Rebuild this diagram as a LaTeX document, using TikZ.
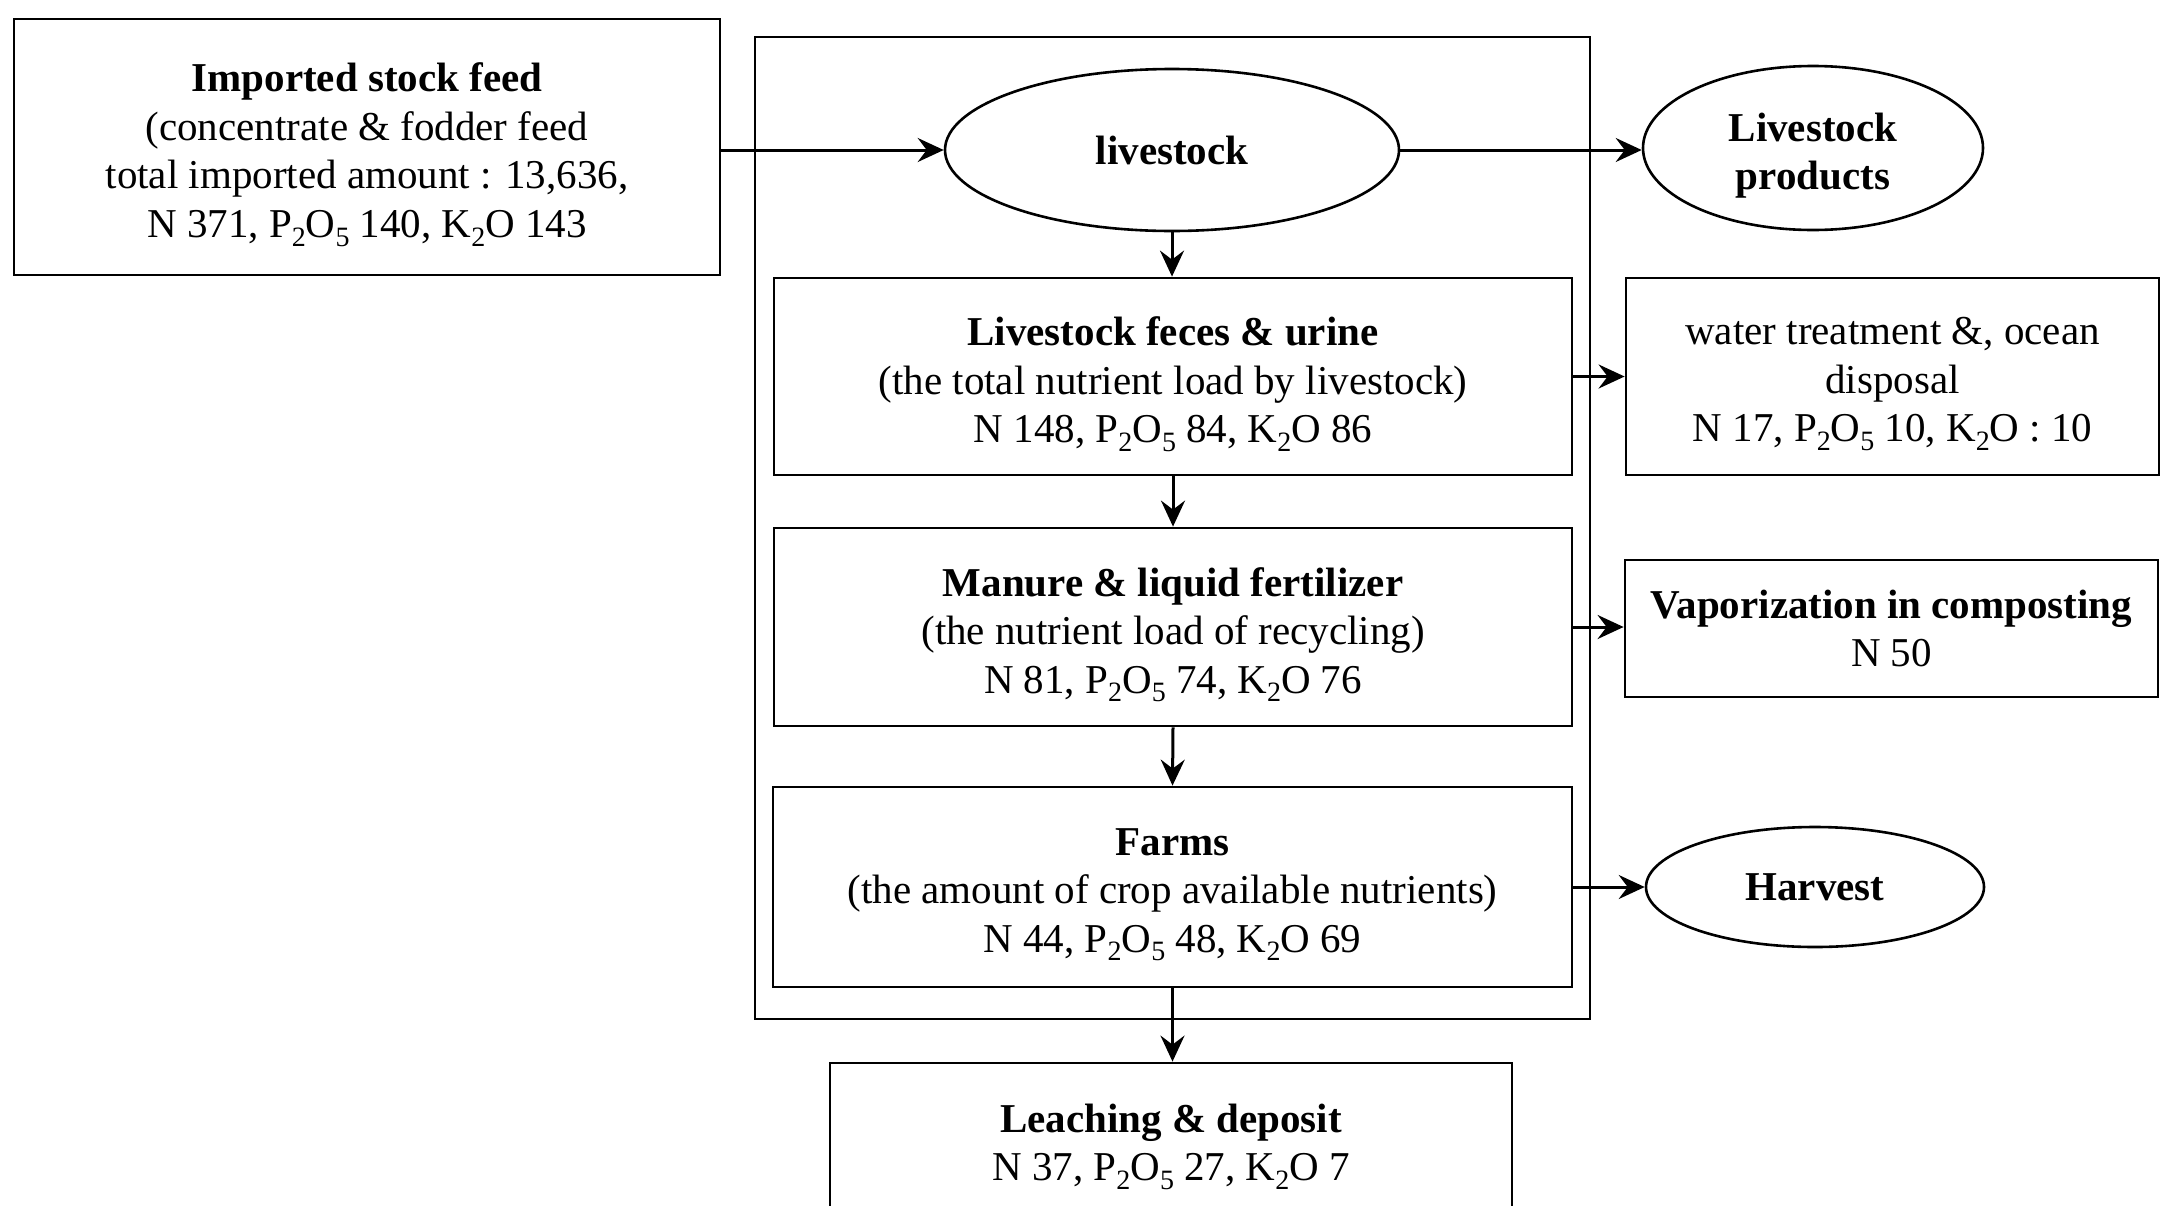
\documentclass[tikz,border=0pt]{standalone}
\usepackage{fontspec}
\setmainfont{Liberation Serif}
\usetikzlibrary{arrows.meta,shapes.geometric}
% lowered subscript digits for the chemical formulas
\newcommand\chemsub[1]{\raisebox{-0.45ex}{\fontsize{14}{14}\selectfont#1}}
\begin{document}
\begin{tikzpicture}[x=0.5pt,y=-0.5pt,
  txt/.style={font=\fontsize{20.5}{24.3}\selectfont, align=center, inner sep=0pt},
  box/.style={txt, draw, line width=1.4pt, rectangle},
  oval/.style={txt, draw, line width=1.3pt, ellipse, inner sep=0pt},
  % text set a little below the centre of its frame
  lowtext/.style={label={[txt, yshift=-3.8pt]center:{#1}}},
  flow/.style={line width=1.5pt, -{Stealth[length=13pt,width=12pt,inset=4.5pt]}}]
\useasboundingbox (0,0) rectangle (2179,1205);

% frame around the on-farm part of the cycle
\node[draw, line width=1.1pt, inner sep=0pt, minimum width=417.5pt, minimum height=491pt] (system) at (1172.5,528) {};

% input
\node[box, minimum width=353pt, minimum height=128pt,
  lowtext={\textbf{Imported stock feed}\\(concentrate \& fodder feed\\total imported amount : 13,636,\\N 371, P\chemsub{2}O\chemsub{5} 140, K\chemsub{2}O 143}] (feed) at (367,147) {};

% main chain
\node[oval, minimum width=227pt, minimum height=81pt] (stock) at (1172,150) {\textbf{livestock}};
\node[box, minimum width=399pt, minimum height=98.5pt,
  lowtext={\textbf{Livestock feces \& urine}\\(the total nutrient load by livestock)\\N 148, P\chemsub{2}O\chemsub{5} 84, K\chemsub{2}O 86}] (feces) at (1173,376.5) {};
\node[box, minimum width=399pt, minimum height=99pt,
  lowtext={\textbf{Manure \& liquid fertilizer}\\(the nutrient load of recycling)\\N 81, P\chemsub{2}O\chemsub{5} 74, K\chemsub{2}O 76}] (manure) at (1173,627) {};
\node[box, minimum width=399.5pt, minimum height=100pt,
  lowtext={\textbf{Farms}\\(the amount of crop available nutrients)\\N 44, P\chemsub{2}O\chemsub{5} 48, K\chemsub{2}O 69}] (farms) at (1172.5,887) {};
\node[box, minimum width=341pt, minimum height=83.5pt] (leach) at (1171,1146.5)
  {\textbf{Leaching \& deposit}\\N 37, P\chemsub{2}O\chemsub{5} 27, K\chemsub{2}O 7};

% outputs
\node[oval, minimum width=170pt, minimum height=82pt,
  lowtext={\textbf{Livestock}\\\textbf{products}}] (prod) at (1813,148) {};
\node[box, minimum width=266.5pt, minimum height=98.5pt,
  lowtext={water treatment \&, ocean\\disposal\\N 17, P\chemsub{2}O\chemsub{5} 10, K\chemsub{2}O : 10}] (water) at (1892.5,376.5) {};
\node[box, minimum width=266.5pt, minimum height=68.5pt] (vapor) at (1891.5,628.5)
  {\textbf{Vaporization in composting}\\N 50};
\node[oval, minimum width=169pt, minimum height=60pt] (harvest) at (1815,887) {\textbf{Harvest}};

% flows
\draw[flow] (feed.east |- stock.west) -- (stock.west);
\draw[flow] (stock.east) -- (stock.east -| prod.west);
\draw[flow] (stock.south) -- (stock.south |- feces.north);
\draw[flow] (feces.south) -- (manure.north);
\draw[flow] (manure.south) -- (farms.north);
\draw[flow] (farms.south) -- (farms.south |- leach.north);
\draw[flow] (feces.east) -- (water.west);
\draw[flow] (manure.east) -- (manure.east -| vapor.west);
\draw[flow] (farms.east) -- (harvest.west);
\end{tikzpicture}
\end{document}
